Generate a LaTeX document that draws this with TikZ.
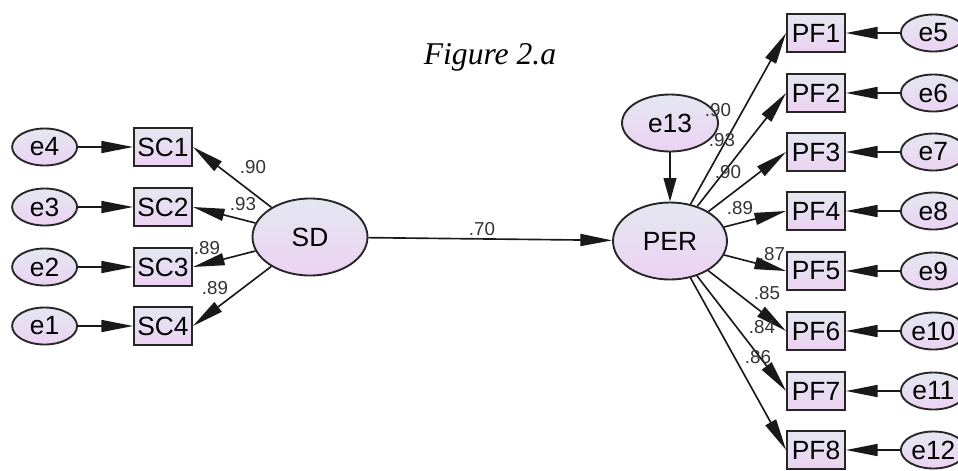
\documentclass[tikz,border=0pt]{standalone}
\usepackage{fontspec}
\setmainfont{Liberation Serif}
\setsansfont{Liberation Sans}
\usetikzlibrary{positioning, shapes.geometric, arrows.meta}

\definecolor{fillTop}{RGB}{228,231,241}
\definecolor{fillBot}{RGB}{236,210,242}

\begin{document}
\begin{tikzpicture}[
    x=0.03cm, y=-0.03cm,
    % Global Styles
    font=\sffamily\fontsize{22.5}{24}\selectfont,
    >={Triangle[length=0.95cm, width=0.36cm]},
    % Observed variables (boxes)
    obs/.style={
        rectangle,
        draw=black!85,
        line width=1.6pt,
        top color=fillTop, bottom color=fillBot,
        minimum width=1.74cm, minimum height=1.15cm,
        inner sep=0pt
    },
    % Latent variables and error terms (ellipses)
    latent/.style 2 args={
        ellipse,
        draw=black!85,
        line width=1.6pt,
        top color=fillTop, bottom color=fillBot,
        minimum width=#1, minimum height=#2,
        inner sep=0pt
    },
    err/.style={latent={1.95cm}{1.11cm}},
    % Paths and coefficients
    path/.style={->, line width=1.4pt, black!90},
    coef/.style={font=\sffamily\fontsize{16}{16}\selectfont, text=black!80, inner sep=1pt}
]

    % --- Page frame ---
    \useasboundingbox (0,0) rectangle (958,470);

    % --- Title ---
    \node[font=\itshape\rmfamily\fontsize{27}{30}\selectfont] (title) at (490,57) {Figure 2.a};

    % --- Latent variables ---
    \node[latent={3.45cm}{2.31cm}] (sd) at (310,237) {SD};
    \node[latent={3.42cm}{2.31cm}] (per) at (670,241) {PER};
    \node[latent={2.88cm}{1.71cm}] (e13) at (670,123) {e13};

    % --- SD indicators (left) ---
    \node[obs] (sc1) at (163,147) {SC1};
    \node[obs] (sc2) at (163,207) {SC2};
    \node[obs] (sc3) at (163,267) {SC3};
    \node[obs] (sc4) at (163,326) {SC4};

    \node[err, left=1.65cm of sc1] (e4) {e4};
    \node[err, left=1.65cm of sc2] (e3) {e3};
    \node[err, left=1.65cm of sc3] (e2) {e2};
    \node[err, left=1.65cm of sc4] (e1) {e1};

    % --- PER indicators (right) ---
    \node[obs] (pf1) at (816,33) {PF1};
    \node[obs] (pf2) at (816,93) {PF2};
    \node[obs] (pf3) at (816,152) {PF3};
    \node[obs] (pf4) at (816,211) {PF4};
    \node[obs] (pf5) at (816,271) {PF5};
    \node[obs] (pf6) at (816,331) {PF6};
    \node[obs] (pf7) at (816,391) {PF7};
    \node[obs] (pf8) at (816,450) {PF8};

    \node[err, right=1.62cm of pf1] (e5) {e5};
    \node[err, right=1.62cm of pf2] (e6) {e6};
    \node[err, right=1.62cm of pf3] (e7) {e7};
    \node[err, right=1.62cm of pf4] (e8) {e8};
    \node[err, right=1.62cm of pf5] (e9) {e9};
    \node[err, right=1.62cm of pf6] (e10) {e10};
    \node[err, right=1.62cm of pf7] (e11) {e11};
    \node[err, right=1.62cm of pf8] (e12) {e12};

    % --- Structural path ---
    \draw[path] (sd) -- (per);
    \node[coef] (c70) at (482,229) {.70};
    \draw[path, >={Triangle[length=0.7cm, width=0.38cm]}] (e13) -- (per);

    % --- SD loadings ---
    \draw[path] (sd) -- (sc1.east);
    \draw[path] (sd) -- (sc2.east);
    \draw[path] (sd) -- (sc3.east);
    \draw[path] (sd) -- (sc4.east);
    \node[coef] (csc1) at (253,167) {.90};
    \node[coef] (csc2) at (243,204) {.93};
    \node[coef] (csc3) at (207,248) {.89};
    \node[coef] (csc4) at (215,288) {.89};

    % --- PER loadings ---
    \draw[path] (per) -- (pf1.west);
    \draw[path] (per) -- (pf2.west);
    \draw[path] (per) -- (pf3.west);
    \draw[path] (per) -- (pf4.west);
    \draw[path] (per) -- (pf5.west);
    \draw[path] (per) -- (pf6.west);
    \draw[path] (per) -- (pf7.west);
    \draw[path] (per) -- (pf8.west);
    \node[coef] (cpf1) at (718,110) {.90};
    \node[coef] (cpf2) at (722,140) {.93};
    \node[coef] (cpf3) at (728,172) {.90};
    \node[coef] (cpf4) at (740,208) {.89};
    \node[coef] (cpf5) at (772,254) {.87};
    \node[coef] (cpf6) at (767,293) {.85};
    \node[coef] (cpf7) at (762,327) {.84};
    \node[coef] (cpf8) at (758,357) {.86};

    % --- Error terms ---
    \draw[path] (e4) -- (sc1);
    \draw[path] (e3) -- (sc2);
    \draw[path] (e2) -- (sc3);
    \draw[path] (e1) -- (sc4);
    \draw[path] (e5) -- (pf1);
    \draw[path] (e6) -- (pf2);
    \draw[path] (e7) -- (pf3);
    \draw[path] (e8) -- (pf4);
    \draw[path] (e9) -- (pf5);
    \draw[path] (e10) -- (pf6);
    \draw[path] (e11) -- (pf7);
    \draw[path] (e12) -- (pf8);

\end{tikzpicture}
\end{document}
